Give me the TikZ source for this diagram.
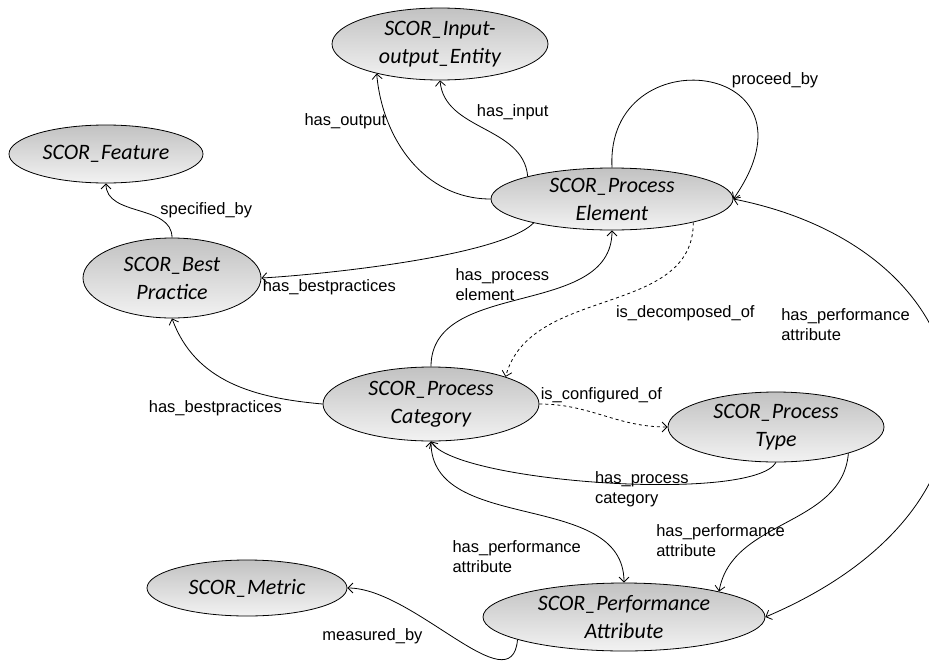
\documentclass[tikz,border=0pt]{standalone}
\usepackage{fontspec}
\setmainfont{Liberation Sans}
\newfontfamily\clsfont{Carlito}
\usetikzlibrary{shapes.geometric,arrows.meta}
\def\clsnode{\node[ellipse,draw,line width=0.8pt,top color=black!24,bottom color=black!5,inner sep=0pt,inner ysep=-6pt,align=center,font=\clsfont\itshape\fontsize{22}{28}\selectfont]}
\tikzset{lbl/.style={inner sep=1pt,align=left,font=\fontsize{16.5}{20}\selectfont}}

\begin{document}
\begin{tikzpicture}[x=1pt,y=-1pt,>={Straight Barb[length=5pt,width=10pt]},line width=0.8pt]
\useasboundingbox (0,0) rectangle (929,664);
% classes
\clsnode[minimum width=216pt,minimum height=72pt] (io) at (440,44) {SCOR\_Input-\\output\_Entity};
\clsnode[minimum width=194pt,minimum height=58pt] (feat) at (106,154) {SCOR\_Feature};
\clsnode[minimum width=178pt,minimum height=80pt] (bp) at (172,278) {SCOR\_Best\\Practice};
\clsnode[minimum width=242pt,minimum height=62pt] (pe) at (612,199) {SCOR\_Process\\Element};
\clsnode[minimum width=216pt,minimum height=74pt] (pcat) at (431,404) {SCOR\_Process\\Category};
\clsnode[minimum width=216pt,minimum height=70pt] (ptype) at (776,427) {SCOR\_Process\\Type};
\clsnode[minimum width=200pt,minimum height=56pt] (metric) at (247,588) {SCOR\_Metric};
\clsnode[minimum width=282pt,minimum height=68pt] (perf) at (624,617) {SCOR\_Performance\\Attribute};
% relations
\draw[->] (pe.west) to[out=180,in=-85] node[lbl,pos=0.75,left] (lout) {has\_output} (io.205);
\draw[->] (pe.165) to[out=95,in=-85] node[lbl,pos=0.6,anchor=south west,xshift=4pt] (lin) {has\_input} (io.south);
\draw[->] (pe.north) .. controls +(-7,-133) and +(97,-139) .. node[lbl,pos=0.6,anchor=south west] (lproc) {proceed\_by} (pe.east);
\draw[->] (bp.north) to[out=90,in=-90] node[lbl,pos=0.5,right=20pt] (lspec) {specified\_by} (feat.south);
\draw[->] (pe.197) to[out=-135,in=3,looseness=0.45] node[lbl,pos=1,anchor=north west] (lbp) {has\_bestpractices} (bp.east);
\draw[->] (pcat.north) to[out=90,in=-90] node[lbl,pos=0.5,anchor=south east,xshift=29pt,yshift=-4pt] (lhpe) {has\_process\\element} (pe.south);
\draw[->,dashed] (pe.-16) to[out=-90,in=75] node[lbl,pos=0.5,anchor=north west,xshift=6pt,yshift=-3pt] (ldec) {is\_decomposed\_of} (pcat.20);
\draw[->] (pcat.west) to[out=175,in=-70] node[lbl,pos=0.2,anchor=north east] (lbp2) {has\_bestpractices} (bp.south);
\draw[->,dashed] (pcat.east) to[out=0,in=180] node[lbl,pos=0,anchor=south west] (lconf) {is\_configured\_of} (ptype.west);
\draw[->] (ptype.south) to[out=-120,in=-60,looseness=0.35] node[lbl,pos=0.42,yshift=-5pt] (lhpc) {has\_process\\category} (pcat.south);
\draw[->] (ptype.-20) to[out=-95,in=80] node[lbl,pos=0.5,anchor=north east] (lpa1) {has\_performance\\attribute} (perf.15);
\draw[<->] (pcat.south) to[out=-90,in=90] node[lbl,pos=0.7,anchor=north east,yshift=-11pt] (lpa2) {has\_performance\\attribute} (perf.north);
\draw[<->] (perf.east) .. controls +(275,-117) and +(257,51) .. node[lbl,pos=0.66,anchor=north east,xshift=-8pt] (lpa3) {has\_performance\\attribute} (pe.east);
\draw[->] (perf.192) to[out=-95,in=0,looseness=0.95] node[lbl,pos=0.62,anchor=north east,xshift=-6pt,yshift=-5pt] (lmeas) {measured\_by} (metric.east);
\end{tikzpicture}
\end{document}
